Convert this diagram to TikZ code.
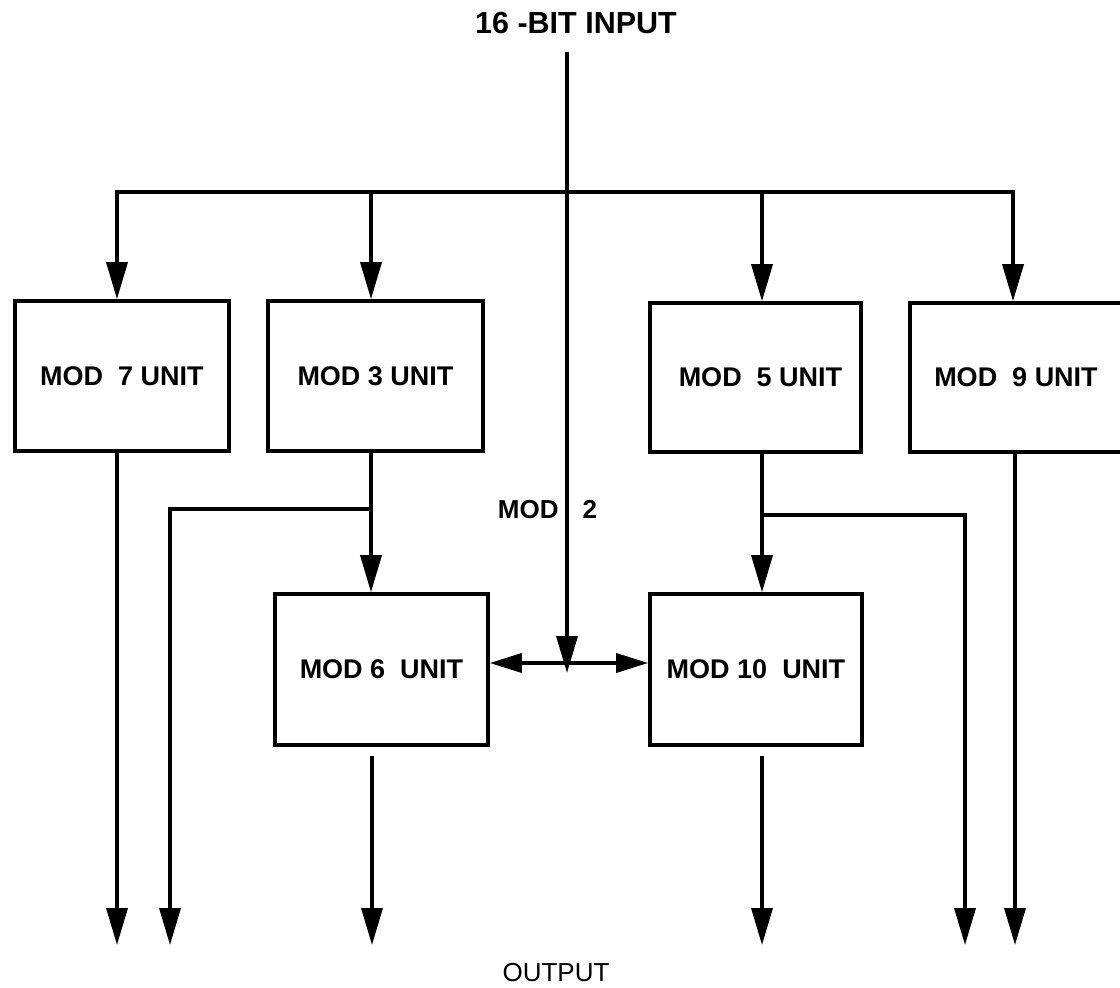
\documentclass[tikz,border=0pt]{standalone}
\usepackage{fontspec}
\setmainfont{Liberation Sans}
\usetikzlibrary{arrows.meta}
\begin{document}
\begin{tikzpicture}[x=1pt,y=-1pt,
  unitbox/.style={draw, line width=3.6pt, inner sep=0pt, anchor=center,
    font=\fontsize{27}{30}\selectfont\bfseries},
  lbl/.style={inner sep=0pt, anchor=center},
  wire/.style={line width=3.6pt},
  arr/.style={wire, -{Triangle[length=37pt,width=21pt]}},
  darr/.style={wire, {Triangle[length=32pt,width=19pt]}-{Triangle[length=32pt,width=19pt]}}]
\path[use as bounding box] (0,0) rectangle (1120,988);
\clip (0,0) rectangle (1120,988);

% titles
\node[lbl, font=\fontsize{30.5}{33}\selectfont\bfseries] (title) at (576,23) {16 -BIT INPUT};
\node[lbl, font=\fontsize{26}{30}\selectfont] (out) at (556,973) {OUTPUT};
\node[lbl, font=\fontsize{26}{30}\selectfont\bfseries] (mod2) at (547.5,510) {MOD\hspace{24pt}2};

% units
\node[unitbox, minimum width=214pt, minimum height=150pt] (m7) at (122,376) {MOD\ \ 7 UNIT};
\node[unitbox, minimum width=215pt, minimum height=150pt] (m3) at (375.5,376) {MOD 3 UNIT};
\node[unitbox, minimum width=211pt, minimum height=149pt] (m5) at (755.5,377.5) {\hspace{10pt}MOD\ \ 5 UNIT};
\node[unitbox, minimum width=212pt, minimum height=149pt] (m9) at (1016,377.5) {MOD\ \ 9 UNIT};
\node[unitbox, minimum width=213pt, minimum height=151pt] (m6) at (381.5,669.5) {MOD 6\ \ UNIT};
\node[unitbox, minimum width=212pt, minimum height=151pt] (m10) at (756,669.5) {MOD 10\ \ UNIT};

% coordinates
\coordinate (in) at (567,52);
\coordinate (jn) at (567,673);
\coordinate (hz) at (567,663);
\coordinate (b7) at (117,192);
\coordinate (b3) at (371,192);
\coordinate (b5) at (762,192);
\coordinate (b9) at (1013,192);
\coordinate (s3) at (371,509);
\coordinate (s3l) at (170,509);
\coordinate (s5) at (762,515);
\coordinate (s5r) at (965,515);
\coordinate (t6) at (372,756);
\coordinate (t10) at (762,756);
\coordinate (o1) at (117,945);
\coordinate (o2) at (170,945);
\coordinate (o3) at (372,945);
\coordinate (o4) at (762,945);
\coordinate (o5) at (965,945);
\coordinate (o6) at (1015,945);

% input and bus
\draw[arr] (in) -- (jn);
\draw[wire, line cap=rect] (b7) -- (b9);
\draw[arr] (b7) -- (b7 |- m7.north);
\draw[arr] (b3) -- (b3 |- m3.north);
\draw[arr] (b5) -- (b5 |- m5.north);
\draw[arr] (b9) -- (b9 |- m9.north);

% mod 2 exchange
\draw[darr] (m6.east |- hz) -- (m10.west |- hz);

% outputs
\draw[arr] (o1 |- m7.south) -- (o1);
\draw[arr] (s3 |- m3.south) -- (s3 |- m6.north);
\draw[arr] (s3) -- (s3l) -- (o2);
\draw[arr] (t6) -- (o3);
\draw[arr] (s5 |- m5.south) -- (s5 |- m10.north);
\draw[arr] (s5) -- (s5r) -- (o5);
\draw[arr] (t10) -- (o4);
\draw[arr] (o6 |- m9.south) -- (o6);
\end{tikzpicture}
\end{document}
